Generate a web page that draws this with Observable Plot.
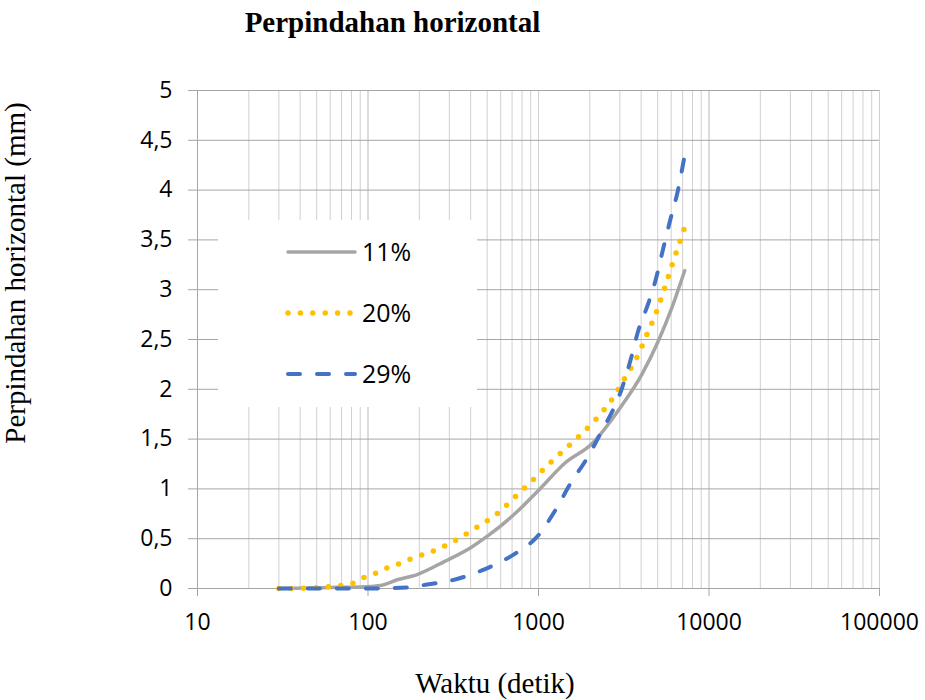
<!DOCTYPE html>
<html>
<head>
<meta charset="utf-8">
<script src="https://cdn.jsdelivr.net/npm/d3@7"></script>
<script src="https://cdn.jsdelivr.net/npm/@observablehq/plot@0.6"></script>
<style>
  html, body { margin: 0; padding: 0; background: #fff; }
  #chart { width: 925px; height: 700px; }
</style>
</head>
<body>
<div id="chart"></div>
<script>
// ---- data ----
const seriesNames = ["11%", "20%", "29%"];
const time11 = [30, 60, 90, 118, 150, 194, 280, 400, 506, 726, 1019, 1430, 2050, 3030, 4040, 5060, 6060, 7200];
const disp11 = [0, 0.01, 0.015, 0.03, 0.09, 0.14, 0.27, 0.41, 0.53, 0.75, 1.0, 1.26, 1.45, 1.82, 2.15, 2.49, 2.82, 3.19];
const time20 = [30, 45, 60, 82, 94, 111, 130, 152, 180, 245, 330, 440, 580, 740, 940, 1200, 1500, 1710, 1960, 2200, 2700, 3200, 3800, 4350, 4950, 5500, 6100, 6800, 7200];
const disp20 = [0, 0.005, 0.02, 0.053, 0.107, 0.153, 0.207, 0.247, 0.3, 0.38, 0.49, 0.62, 0.76, 0.93, 1.1, 1.28, 1.43, 1.52, 1.62, 1.71, 1.9, 2.11, 2.33, 2.56, 2.79, 3.02, 3.26, 3.5, 3.63];
const time29 = [30, 60, 100, 170, 222, 318, 478, 760, 970, 1250, 1560, 1900, 2300, 3100, 3500, 3850, 4400, 4850, 5400, 6050, 6500, 7200];
const disp29 = [0, 0, 0, 0.01, 0.04, 0.087, 0.19, 0.37, 0.51, 0.78, 1.07, 1.29, 1.55, 2.02, 2.32, 2.59, 2.86, 3.09, 3.42, 3.76, 3.96, 4.35];
const xTickValues = [10, 100, 1000, 10000, 100000];
const yTickValues = [0, 0.5, 1, 1.5, 2, 2.5, 3, 3.5, 4, 4.5, 5];
const titleText = "Perpindahan horizontal";
const xLabelText = "Waktu (detik)";
const yLabelText = "Perpindahan horizontal (mm)";

// ---- styles ----
const colors = ["#a5a5a5", "#ffc000", "#4472c4"];
const widths = [3.5, 5.5, 4];
const dashes = [null, "0 12.4", "12 17"];

const toRows = (ts, vs, name) => ts.map((t, i) => ({ t, v: vs[i], name }));
const rows11 = toRows(time11, disp11, seriesNames[0]);
const rows20 = toRows(time20, disp20, seriesNames[1]);
const rows29 = toRows(time29, disp29, seriesNames[2]);

// minor log gridlines
const xGrid = [];
for (let k = 0; k < xTickValues.length - 1; k++) {
  for (let m = 1; m <= 10; m++) xGrid.push(xTickValues[k] * m);
}

const commaFmt = d => String(d).replace(".", ",");

const lineOpts = (i) => ({
  x: "t", y: "v",
  stroke: colors[i], strokeWidth: widths[i],
  strokeDasharray: dashes[i] || undefined,
  strokeLinecap: "round", strokeLinejoin: "round",
  curve: "monotone-x"
});

const chart = Plot.plot({
  width: 925, height: 700,
  marginLeft: 197, marginRight: 46, marginTop: 90, marginBottom: 112,
  style: { fontFamily: "'Open Sans', sans-serif", fontSize: "23px", color: "#000", background: "#fff" },
  x: { type: "log", domain: [10, 100000] },
  y: { domain: [0, 5] },
  marks: [
    Plot.ruleX(xGrid, { stroke: "#d0d0d0", strokeWidth: 1 }),
    Plot.ruleY(yTickValues, { stroke: "#a6a6a6", strokeWidth: 1 }),
    Plot.ruleX([10], { stroke: "#a6a6a6", strokeWidth: 1 }),
    Plot.axisY({ ticks: yTickValues, tickSize: 9, tickPadding: 16, tickFormat: commaFmt, stroke: "#a6a6a6", label: null, fontSize: 23 }),
    Plot.axisX({ ticks: xTickValues, tickSize: 8, tickPadding: 17, tickFormat: d3.format("d"), stroke: "#a6a6a6", label: null, fontSize: 23 }),
    Plot.line(rows11, lineOpts(0)),
    Plot.line(rows20, lineOpts(1)),
    Plot.line(rows29, lineOpts(2))
  ]
});

document.getElementById("chart").appendChild(chart);

// ---- title, axis labels and legend ----
const svg = d3.select(chart);
const serif = "'Liberation Serif', 'Times New Roman', serif";
svg.append("text").attr("x", 392.5).attr("y", 32).attr("text-anchor", "middle")
  .attr("font-family", serif).attr("font-weight", "bold").attr("font-size", 29).attr("fill", "#000")
  .text(titleText);
svg.append("text").attr("x", 495).attr("y", 693).attr("text-anchor", "middle")
  .attr("font-family", serif).attr("font-size", 29).attr("fill", "#000")
  .text(xLabelText);
svg.append("text").attr("transform", "translate(25,273) rotate(-90)").attr("text-anchor", "middle")
  .attr("font-family", serif).attr("font-size", 29).attr("fill", "#000")
  .text(yLabelText);

const lg = svg.append("g");
lg.append("rect").attr("x", 218).attr("y", 220).attr("width", 259).attr("height", 187).attr("fill", "#fff");
const legendY = [252, 313, 374];
seriesNames.forEach((name, i) => {
  const ln = lg.append("line").attr("x1", 288).attr("x2", 355).attr("y1", legendY[i]).attr("y2", legendY[i])
    .attr("stroke", colors[i]).attr("stroke-width", widths[i]).attr("stroke-linecap", "round");
  if (dashes[i]) ln.attr("stroke-dasharray", dashes[i]);
  lg.append("text").attr("x", 362).attr("y", legendY[i] + 9).attr("text-anchor", "start")
    .attr("font-family", "'Open Sans', sans-serif").attr("font-size", 25).attr("fill", "#000")
    .text(name);
});
</script>
</body>
</html>
